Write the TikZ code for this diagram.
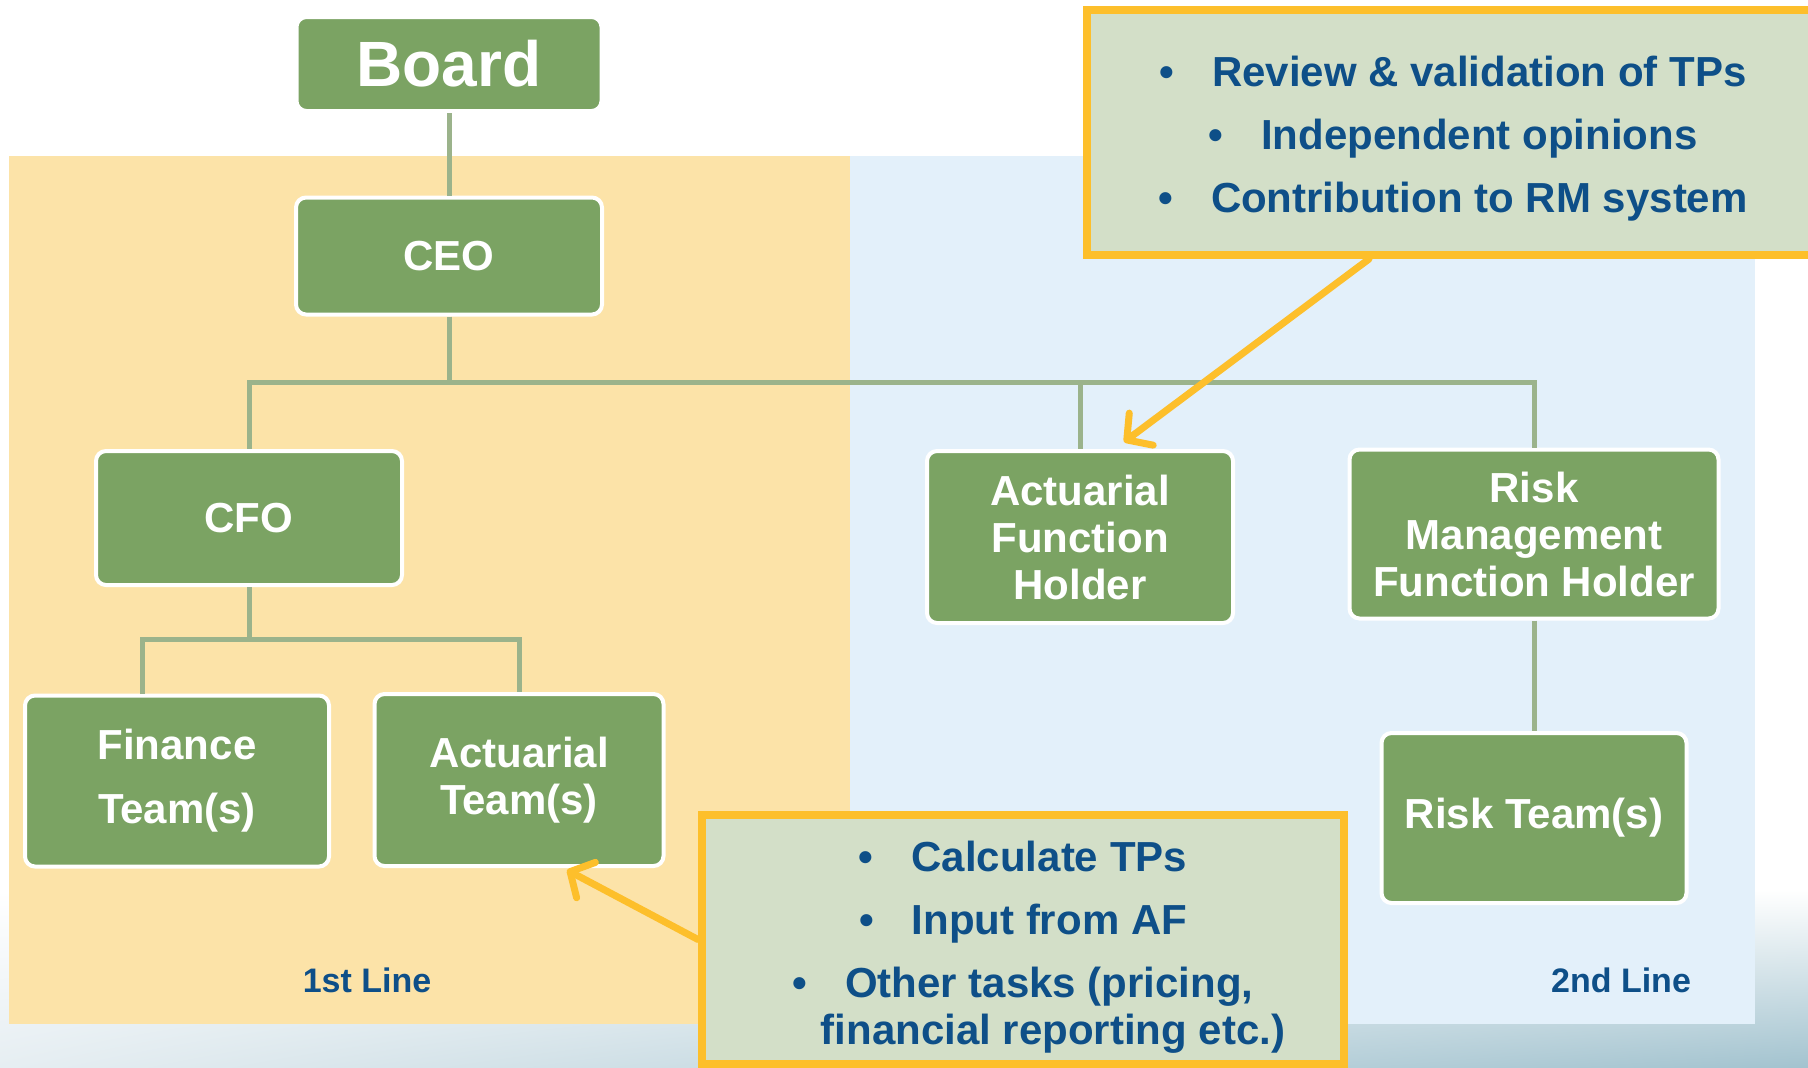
\documentclass[tikz,border=0pt]{standalone}
\usepackage{fontspec}
\setmainfont{Liberation Sans}
\usetikzlibrary{arrows.meta,positioning,calc,shadings}
\definecolor{boxgreen}{HTML}{7BA363}
\definecolor{linkgreen}{HTML}{9BB38B}
\definecolor{noteyellow}{HTML}{FDBF2B}
\definecolor{notefill}{HTML}{D3DFC8}
\definecolor{textblue}{HTML}{0E4F88}
\definecolor{firstline}{HTML}{FCE3A8}
\definecolor{secondline}{HTML}{E3F0FA}
\definecolor{floorlight}{HTML}{E6EEF2}
\definecolor{floordark}{HTML}{A3C3CF}
\tikzset{/org/box/.style={rectangle, rounded corners=5pt, draw=white, line width=2pt, fill=boxgreen, text=white, align=center, inner sep=0pt, font=\bfseries\fontsize{21}{23.5}\selectfont
}}
\tikzset{/org/link/.style={draw=linkgreen, line width=2.5pt
}}
\tikzset{/org/note/.style={rectangle, draw=noteyellow, line width=4pt, fill=notefill, text=textblue, align=center, inner sep=0pt, font=\bfseries\fontsize{21}{23.5}\selectfont
}}
\tikzset{/org/pointer/.style={draw=noteyellow, line width=3.5pt, line cap=round, -{Straight Barb[length=9pt,width=20pt,round]}
}}
\tikzset{/org/line/.style={text=textblue, font=\bfseries\fontsize{17}{20}\selectfont
}}

\begin{document}
\begin{tikzpicture}[x=0.5pt, y=-0.5pt]
		\useasboundingbox (0,0) rectangle (1808,1067);
		\clip (0,0) rectangle (1808,1067);
		\fill[white] (0,0) rectangle (1808,1067);
		\shade[upper left=white, upper right=white, lower left=floorlight, lower right=floordark] (0,890) rectangle (1808,1067);
		\fill[firstline] (9,156) rectangle (850,1024);
		\fill[secondline] (850,156) rectangle (1755,1024);

		\node[/org/box, minimum width=152.5pt, minimum height=47pt, font=\bfseries\fontsize{32}{36}\selectfont] (board) at (449,64) {Board};
		\node[/org/box, minimum width=153pt, minimum height=58.5pt] (ceo) at (449,256) {CEO};
		\node[/org/box, minimum width=153pt, minimum height=67pt] (cfo) at (249,518) {CFO};
		\node[/org/box, minimum width=152pt, minimum height=85.5pt] (finance) at (177,781) {Finance\\[8.5pt]Team(s)};
		\node[/org/box, minimum width=144.5pt, minimum height=86pt] (actteam) at (519,780) {Actuarial\\Team(s)};
		\node[/org/box, minimum width=153pt, minimum height=86pt] (afh) at (1080,537) {Actuarial\\Function\\Holder};
		\node[/org/box, minimum width=184.5pt, minimum height=84.5pt] (rmfh) at (1534,534) {Risk\\Management\\Function Holder};
		\node[/org/box, minimum width=152.5pt, minimum height=85pt] (riskteam) at (1534,818) {Risk Team(s)};

		\coordinate (bus) at (449,382);
		\coordinate (cfobus) at (249,639);
		\draw[/org/link] (board) -- (ceo);
		\draw[/org/link] (ceo) -- (bus) -| (cfo);
		\draw[/org/link] (bus) -| (afh);
		\draw[/org/link] (bus) -| (rmfh);
		\draw[/org/link] (cfo) -- (cfobus) -| ([xshift=-17.5pt]finance.north);
		\draw[/org/link] (cfobus) -| (actteam);
		\draw[/org/link] (rmfh) -- (riskteam);

		\node[/org/line] (first) at (367,980) {1st Line};
		\node[/org/line] (second) at (1621,980) {2nd Line};

		\node[/org/note, minimum width=366pt, minimum height=122.5pt] (afnote) at (1453,132.5) {\rule{0pt}{21pt}•\hspace{19pt}Review \& validation of TPs\\[8pt]•\hspace{19pt}Independent opinions\\[8pt]•\hspace{19pt}Contribution to RM system};
		\node[/org/note, minimum width=321pt, minimum height=124.5pt] (tpnote) at (1023,939.5) {\rule{0pt}{23pt}•\hspace{19pt}Calculate TPs\\[8pt]•\hspace{19pt}Input from AF\\[8pt]•\hspace{19pt}Other tasks (pricing,\\\hspace*{30pt}financial reporting etc.)};

		\draw[/org/pointer] ([xshift=-42pt]afnote.south) -- ([xshift=22pt,yshift=3.5pt]afh.north);
		\draw[/org/pointer] (tpnote.west) -- ([xshift=24pt,yshift=-1pt]actteam.south);
	\end{tikzpicture}
\end{document}
